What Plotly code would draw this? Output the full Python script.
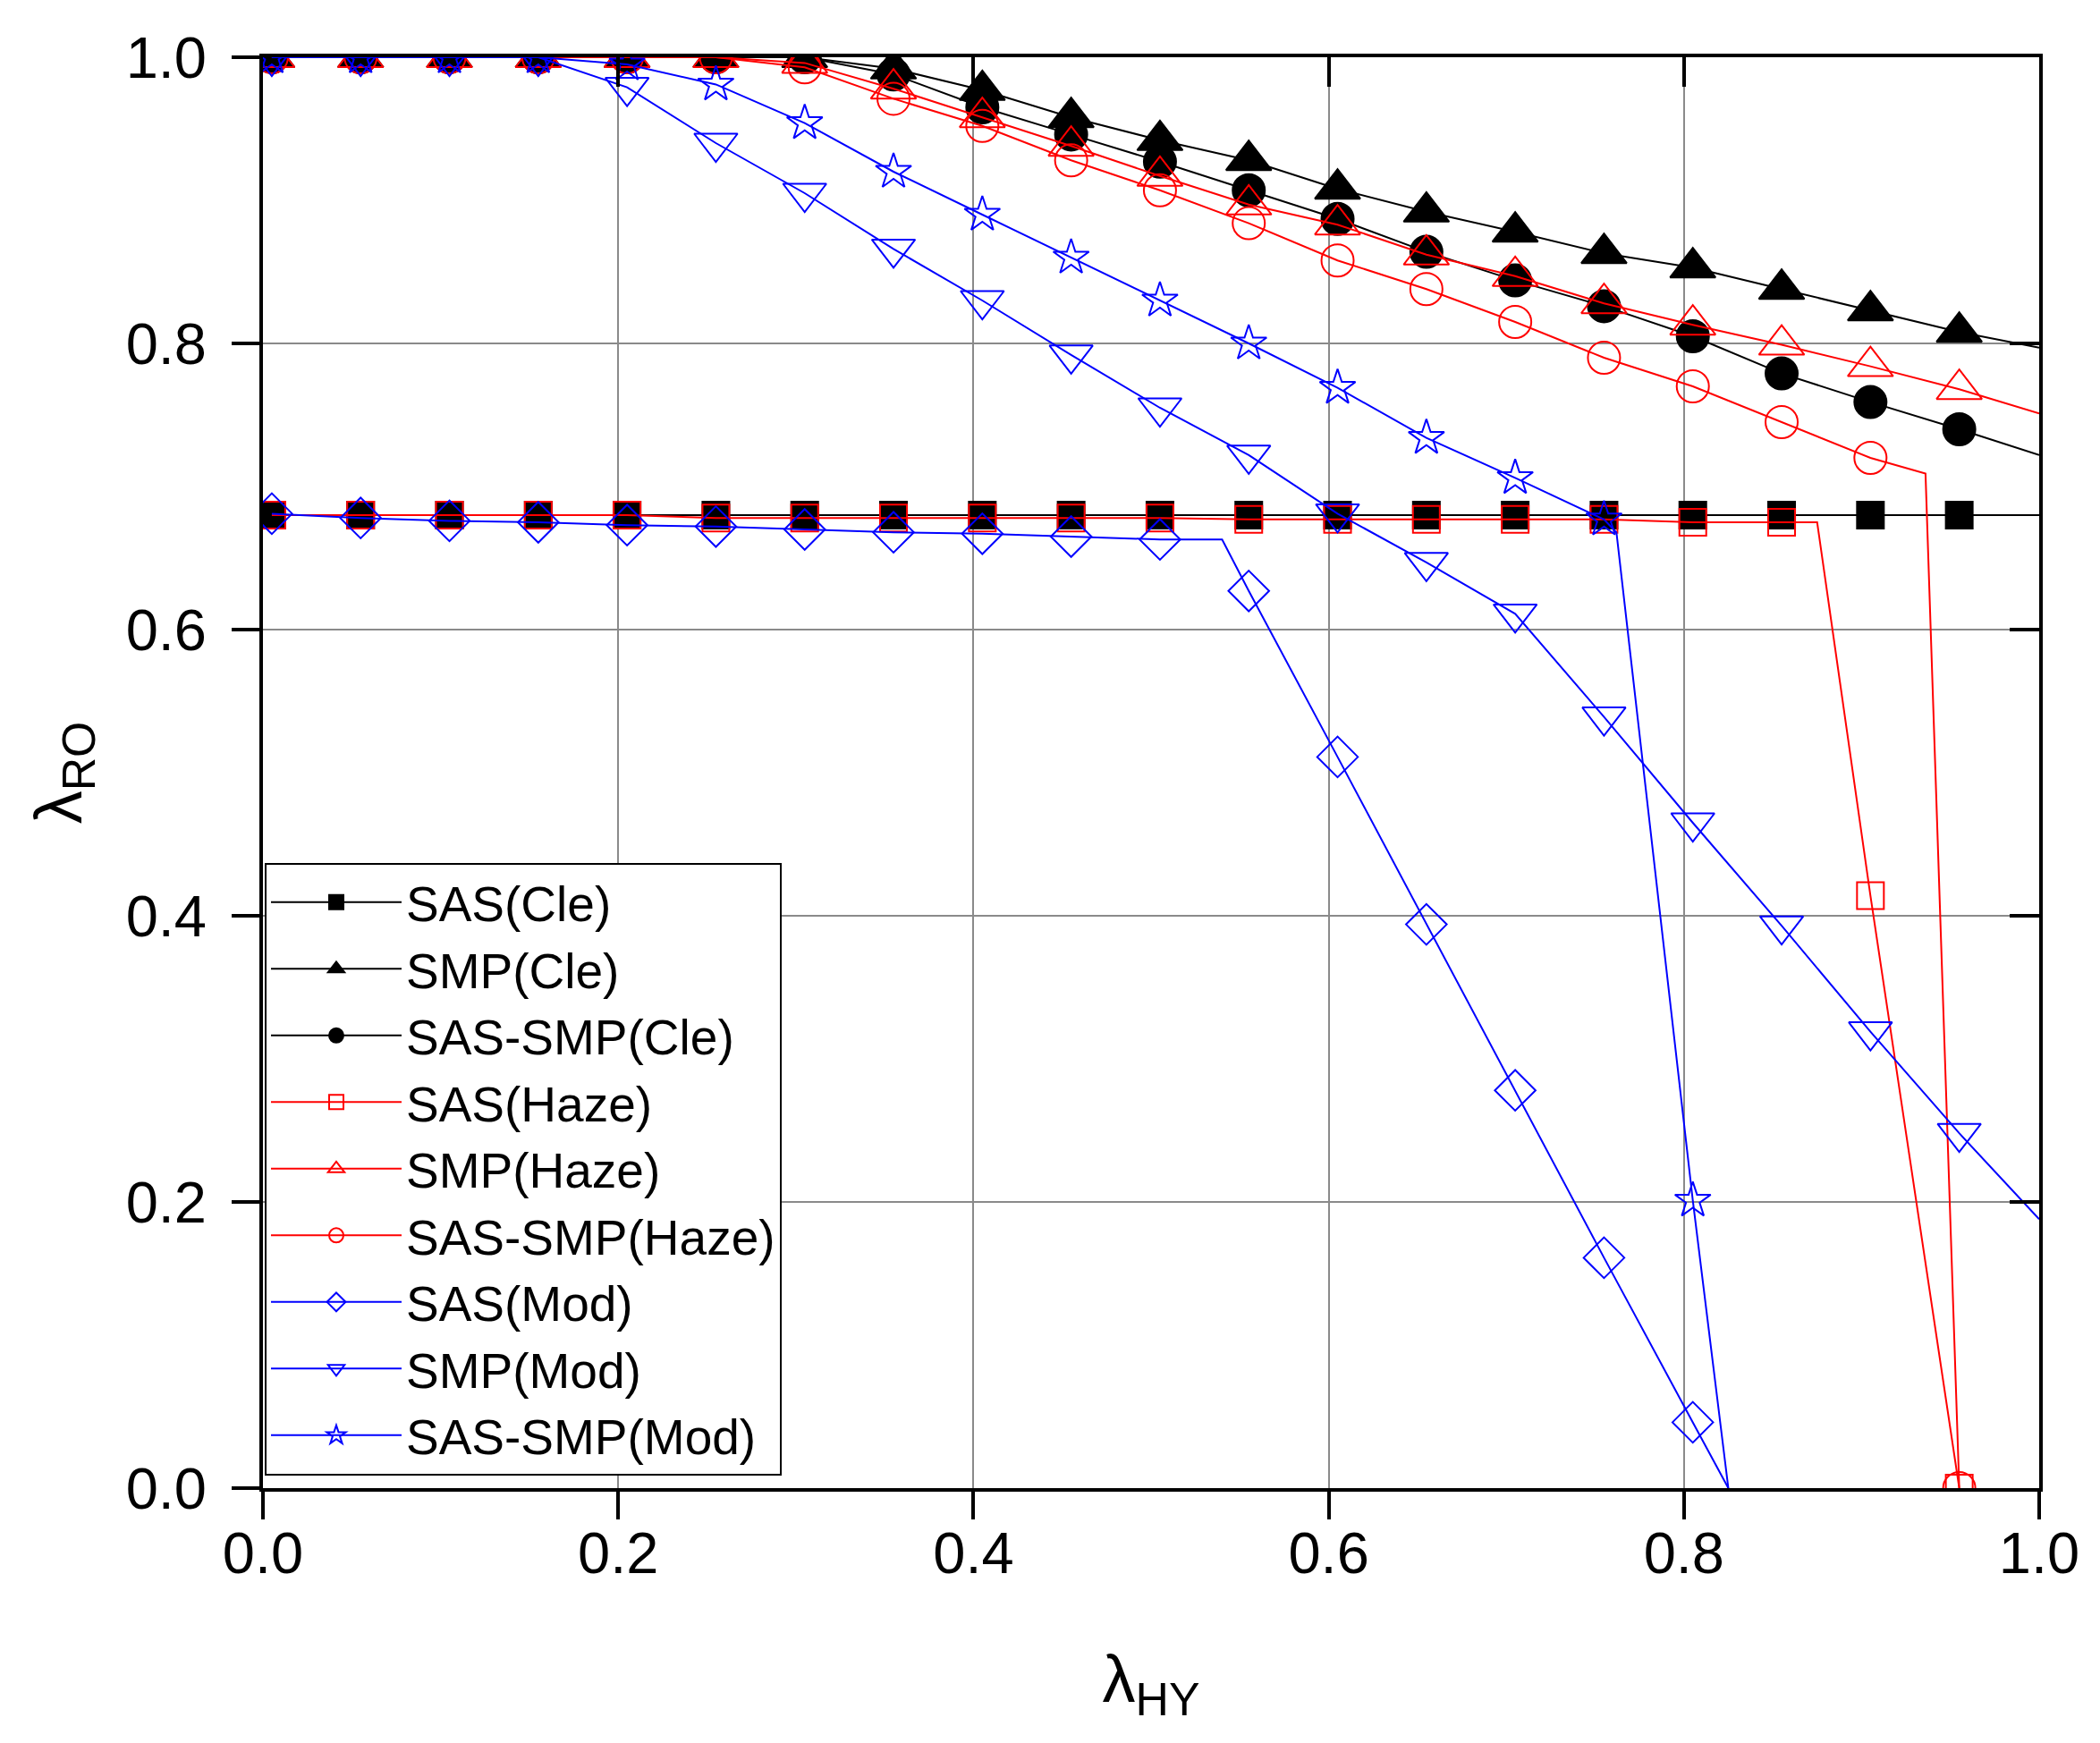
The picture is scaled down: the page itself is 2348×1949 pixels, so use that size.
import plotly.graph_objects as go

# ---------------- data ----------------
X_HY = [0.005, 0.055, 0.105, 0.155, 0.205, 0.255, 0.305, 0.355, 0.405, 0.455,
        0.505, 0.555, 0.605, 0.655, 0.705, 0.755, 0.805, 0.855, 0.905, 0.955]

SAS_CLE = [0.680, 0.680, 0.680, 0.680, 0.680, 0.680, 0.680, 0.680, 0.680, 0.680,
           0.680, 0.680, 0.680, 0.680, 0.680, 0.680, 0.680, 0.680, 0.680, 0.680]
SMP_CLE = [1.000, 1.000, 1.000, 1.000, 1.000, 1.000, 1.000, 0.992, 0.977, 0.958,
           0.942, 0.928, 0.908, 0.892, 0.878, 0.863, 0.853, 0.838, 0.823, 0.808]
SAS_SMP_CLE = [1.000, 1.000, 1.000, 1.000, 1.000, 1.000, 1.000, 0.988, 0.965, 0.946,
               0.927, 0.907, 0.887, 0.864, 0.844, 0.826, 0.805, 0.779, 0.759, 0.740]
SAS_HAZE = [0.680, 0.680, 0.680, 0.680, 0.680, 0.678, 0.678, 0.678, 0.678, 0.678,
            0.678, 0.677, 0.677, 0.677, 0.677, 0.677, 0.675, 0.675, 0.414, 0.000]
SMP_HAZE = [1.000, 1.000, 1.000, 1.000, 1.000, 1.000, 0.996, 0.978, 0.958, 0.938,
            0.917, 0.897, 0.883, 0.862, 0.847, 0.828, 0.813, 0.799, 0.784, 0.768]
SAS_SMP_HAZE = [1.000, 1.000, 1.000, 1.000, 1.000, 1.000, 0.993, 0.971, 0.952, 0.928,
                0.907, 0.884, 0.858, 0.838, 0.815, 0.790, 0.770, 0.745, 0.720, 0.000]
SAS_MOD = [0.681, 0.678, 0.676, 0.675, 0.673, 0.672, 0.670, 0.668, 0.667, 0.665,
           0.663, 0.627, 0.511, 0.394, 0.278, 0.161, 0.046, None, None, None]
SMP_MOD = [1.000, 1.000, 1.000, 1.000, 0.979, 0.940, 0.905, 0.866, 0.830, 0.792,
           0.755, 0.722, 0.681, 0.647, 0.611, 0.539, 0.465, 0.393, 0.319, 0.248]
SAS_SMP_MOD = [1.000, 1.000, 1.000, 1.000, 0.995, 0.981, 0.954, 0.920, 0.890, 0.860,
               0.830, 0.800, 0.769, 0.734, 0.706, 0.677, 0.201, None, None, None]

# extra points of the connecting lines (breakpoints / line ends between markers)
SAS_CLE_LX, SAS_CLE_LY = [1.0], [0.680]
SMP_CLE_LX, SMP_CLE_LY = [1.0], [0.797]
SAS_SMP_CLE_LX, SAS_SMP_CLE_LY = [1.0], [0.722]
SAS_HAZE_LX, SAS_HAZE_LY = [0.875], [0.675]
SMP_HAZE_LX, SMP_HAZE_LY = [1.0], [0.751]
SAS_SMP_HAZE_LX, SAS_SMP_HAZE_LY = [0.936], [0.709]
SAS_MOD_LX, SAS_MOD_LY = [0.540, 0.825], [0.663, 0.000]
SMP_MOD_LX, SMP_MOD_LY = [1.0], [0.188]
SAS_SMP_MOD_LX, SAS_SMP_MOD_LY = [0.762, 0.825], [0.668, 0.000]

NAMES = ["SAS(Cle)", "SMP(Cle)", "SAS-SMP(Cle)", "SAS(Haze)", "SMP(Haze)",
         "SAS-SMP(Haze)", "SAS(Mod)", "SMP(Mod)", "SAS-SMP(Mod)"]
TICKS = [0.0, 0.2, 0.4, 0.6, 0.8, 1.0]

# ---------------- styling ----------------
FONT = "Liberation Sans, Arial, sans-serif"
BLACK, RED, BLUE = "#000000", "#FF0000", "#0000FF"

series = [
    (NAMES[0], SAS_CLE, SAS_CLE_LX, SAS_CLE_LY, BLACK, "square", 30),
    (NAMES[1], SMP_CLE, SMP_CLE_LX, SMP_CLE_LY, BLACK, "triangle-up", 44),
    (NAMES[2], SAS_SMP_CLE, SAS_SMP_CLE_LX, SAS_SMP_CLE_LY, BLACK, "circle", 36),
    (NAMES[3], SAS_HAZE, SAS_HAZE_LX, SAS_HAZE_LY, RED, "square-open", 30),
    (NAMES[4], SMP_HAZE, SMP_HAZE_LX, SMP_HAZE_LY, RED, "triangle-up-open", 44),
    (NAMES[5], SAS_SMP_HAZE, SAS_SMP_HAZE_LX, SAS_SMP_HAZE_LY, RED, "circle-open", 36),
    (NAMES[6], SAS_MOD, SAS_MOD_LX, SAS_MOD_LY, BLUE, "diamond-open", 35),
    (NAMES[7], SMP_MOD, SMP_MOD_LX, SMP_MOD_LY, BLUE, "triangle-down-open", 42),
    (NAMES[8], SAS_SMP_MOD, SAS_SMP_MOD_LX, SAS_SMP_MOD_LY, BLUE, "star-open", 30),
]

fig = go.Figure()

for name, ys, lx, ly, color, symbol, size in series:
    pts = [(x, y) for x, y in zip(X_HY, ys) if y is not None] + list(zip(lx, ly))
    pts.sort(key=lambda p: p[0])
    fig.add_trace(go.Scatter(
        x=[p[0] for p in pts], y=[p[1] for p in pts], mode="lines",
        line=dict(color=color, width=2), showlegend=False,
        legendgroup=name, hoverinfo="skip", cliponaxis=True))
    mx = [x for x, y in zip(X_HY, ys) if y is not None]
    my = [y for y in ys if y is not None]
    fig.add_trace(go.Scatter(
        x=mx, y=my, mode="markers", showlegend=False, legendgroup=name,
        marker=dict(symbol=symbol, size=size, color=color,
                    line=dict(color=color, width=2)),
        cliponaxis=True))

# legend entries (line + marker sample)
for name, ys, lx, ly, color, symbol, size in series:
    fig.add_trace(go.Scatter(
        x=[None], y=[None], mode="lines+markers", name=name, legendgroup=name,
        line=dict(color=color, width=2),
        marker=dict(symbol=symbol, size=size, color=color,
                    line=dict(color=color, width=2))))

# invisible trace to materialise the mirrored (inward-tick) axes
fig.add_trace(go.Scatter(x=[None], y=[None], xaxis="x2", yaxis="y2",
                         showlegend=False, hoverinfo="skip"))

axis_common = dict(
    range=[0, 1], tickvals=TICKS, tickformat=".1f",
    ticks="outside", ticklen=31, tickwidth=4, tickcolor=BLACK,
    showline=True, linewidth=4, linecolor=BLACK, mirror=True,
    showgrid=True, gridcolor="#8a8a8a", gridwidth=2, zeroline=False,
    tickfont=dict(family=FONT, size=65, color=BLACK),
)

fig.update_layout(
    width=2348, height=1949,
    margin=dict(l=286, r=76, t=56, b=293),
    paper_bgcolor="white", plot_bgcolor="white",
    font=dict(family=FONT, color=BLACK),
    xaxis=dict(**axis_common, ticklabelstandoff=-18,
               title=dict(text="λ<sub>HY</sub>", standoff=80,
                          font=dict(family=FONT, size=74, color=BLACK))),
    yaxis=dict(**axis_common, ticklabelstandoff=15,
               title=dict(text="λ<sub>RO</sub>", standoff=26,
                          font=dict(family=FONT, size=74, color=BLACK))),
    xaxis2=dict(overlaying="x", side="top", anchor="y2", range=[0, 1],
                tickvals=TICKS, ticks="inside", ticklen=33, tickwidth=4,
                tickcolor=BLACK, showticklabels=False, showgrid=False,
                showline=False, zeroline=False),
    yaxis2=dict(overlaying="y", side="right", anchor="x2", range=[0, 1],
                tickvals=TICKS, ticks="inside", ticklen=33, tickwidth=4,
                tickcolor=BLACK, showticklabels=False, showgrid=False,
                showline=False, zeroline=False),
    legend=dict(x=0.001, y=0.009, xanchor="left", yanchor="bottom",
                bgcolor="white", bordercolor=BLACK, borderwidth=2,
                font=dict(family=FONT, size=55, color=BLACK),
                itemwidth=146, tracegroupgap=0),
    showlegend=True,
)

fig.write_html("out.html")
